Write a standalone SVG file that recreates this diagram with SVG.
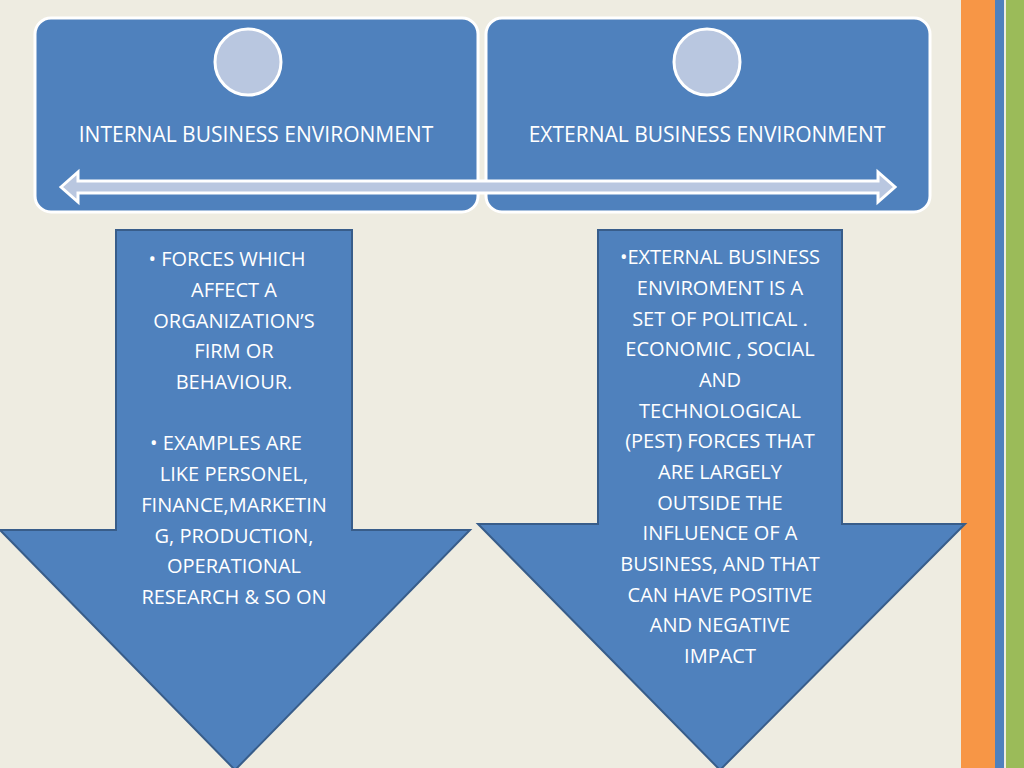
<svg xmlns="http://www.w3.org/2000/svg" width="1024" height="768" viewBox="0 0 1024 768">
<style>
.box{fill:#4f81bd;stroke:#fff;stroke-width:3}
.arr{fill:#4f81bd;stroke:#385d8a;stroke-width:2}
.t{font-family:"Open Sans","Liberation Sans",sans-serif;font-size:20px;fill:#fff;text-anchor:middle}
.h{font-family:"Open Sans","Liberation Sans",sans-serif;font-size:21px;fill:#fff;text-anchor:middle}
</style>
<rect width="1024" height="768" fill="#eeece1"/>
<rect x="961" y="0" width="34" height="768" fill="#f79646"/>
<rect x="995" y="0" width="9" height="768" fill="#4f81bd"/>
<rect x="1006" y="0" width="18" height="768" fill="#9bbb59"/>
<g id="internal">
<rect class="box" x="35" y="18" width="443" height="194" rx="16"/>
<circle cx="248" cy="62" r="33" fill="#b9c7e0" stroke="#fff" stroke-width="3"/>
<text class="h" x="256" y="142">INTERNAL BUSINESS ENVIRONMENT</text>
</g>
<g id="external">
<rect class="box" x="486" y="18" width="444" height="194" rx="16"/>
<circle cx="707" cy="62" r="33" fill="#b9c7e0" stroke="#fff" stroke-width="3"/>
<text class="h" x="707" y="142">EXTERNAL BUSINESS ENVIRONMENT</text>
</g>
<g id="connectors">
<polygon points="61,187 78,172 78,181 878,181 878,172 895,187 878,202 878,193 78,193 78,202" fill="#b9c7e0" stroke="#fff" stroke-width="3"/>
</g>
<g id="left-arrow">
<polygon class="arr" points="116,230 352,230 352,530 470,530 235,770 0,530 116,530"/>
<text class="t"><tspan x="227" y="266">•  FORCES  WHICH</tspan><tspan x="234" y="297">AFFECT A</tspan><tspan x="234" y="328">ORGANIZATION’S</tspan><tspan x="234" y="358">FIRM OR</tspan><tspan x="234" y="389">BEHAVIOUR.</tspan><tspan x="226" y="450">•  EXAMPLES ARE</tspan><tspan x="234" y="481">LIKE PERSONEL,</tspan><tspan x="234" y="512">FINANCE,MARKETIN</tspan><tspan x="234" y="543">G, PRODUCTION,</tspan><tspan x="234" y="573">OPERATIONAL</tspan><tspan x="234" y="604">RESEARCH &amp; SO ON</tspan></text>
</g>
<g id="right-arrow">
<polygon class="arr" points="598,230 842,230 842,524 965,524 720,770 478,524 598,524"/>
<text class="t"><tspan x="720" y="264">•EXTERNAL BUSINESS</tspan><tspan x="720" y="295">ENVIROMENT IS  A</tspan><tspan x="720" y="326">SET OF POLITICAL .</tspan><tspan x="720" y="356">ECONOMIC , SOCIAL</tspan><tspan x="720" y="387">AND</tspan><tspan x="720" y="418">TECHNOLOGICAL</tspan><tspan x="720" y="448">(PEST) FORCES THAT</tspan><tspan x="720" y="479">ARE LARGELY</tspan><tspan x="720" y="510">OUTSIDE THE</tspan><tspan x="720" y="540">INFLUENCE OF A</tspan><tspan x="720" y="571">BUSINESS, AND THAT</tspan><tspan x="720" y="602">CAN HAVE POSITIVE</tspan><tspan x="720" y="632">AND NEGATIVE</tspan><tspan x="720" y="663">IMPACT</tspan></text>
</g>
</svg>
